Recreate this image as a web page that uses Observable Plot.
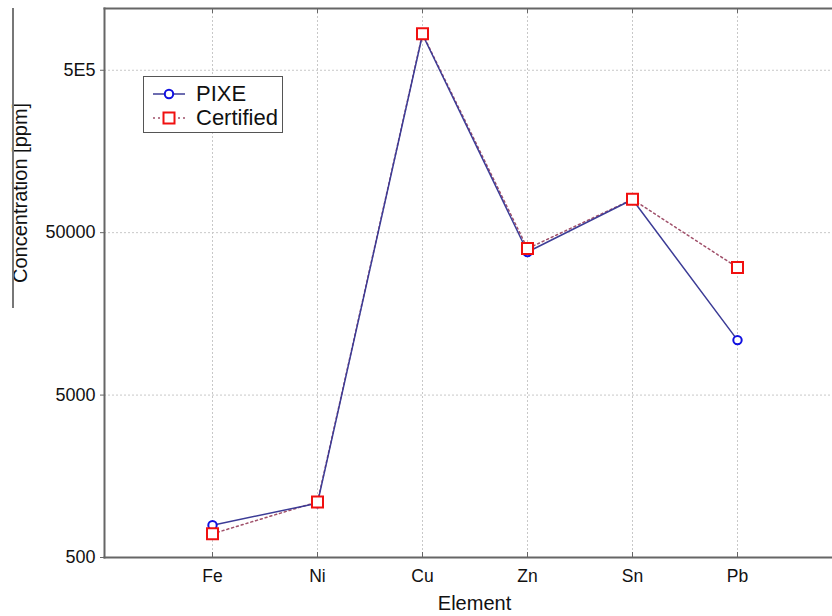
<!DOCTYPE html>
<html>
<head>
<meta charset="utf-8">
<script src="https://cdn.jsdelivr.net/npm/d3@7"></script>
<script src="https://cdn.jsdelivr.net/npm/@observablehq/plot@0.6"></script>
<style>
  html, body { margin: 0; padding: 0; background: white; }
  #wrap { position: relative; width: 832px; height: 616px; overflow: hidden; font-family: "Liberation Sans", Arial, sans-serif; }
  #stray { position: absolute; left: 12px; top: 8px; width: 2px; height: 300px; background: #777; }
  #legend { position: absolute; left: 143px; top: 76px; width: 138px; height: 55px; border: 1.5px solid #555; background: white; }
  #legend .row { position: absolute; left: 0; height: 26px; display: flex; align-items: center; }
  #legend .row span { font-size: 22px; color: #111; margin-left: 11px; }
</style>
</head>
<body>
<div id="wrap">
  <div id="chart"></div>
  <div id="stray"></div>
  <div id="legend">
    <div class="row" style="top:4px;left:9px">
      <svg width="32" height="14"><line x1="0" y1="7" x2="32" y2="7" stroke="#3c3c96" stroke-width="1.5"/><circle cx="16" cy="7" r="4.2" fill="white" stroke="#1010e0" stroke-width="2"/></svg>
      <span>PIXE</span>
    </div>
    <div class="row" style="top:28px;left:9px">
      <svg width="32" height="14"><line x1="0" y1="7" x2="32" y2="7" stroke="#a0506a" stroke-width="1.5" stroke-dasharray="2,3"/><rect x="10.5" y="1.5" width="11" height="11" fill="white" stroke="#f01010" stroke-width="2"/></svg>
      <span>Certified</span>
    </div>
  </div>
</div>
<script>
const elements = ["Fe", "Ni", "Cu", "Zn", "Sn", "Pb"];
const pixe = [790, 1080, 830000, 38000, 80000, 10900];
const certified = [700, 1100, 840000, 39900, 80200, 30500];
const yTicks = [500, 5000, 50000, 500000];
const yTickLabels = ["500", "5000", "50000", "5E5"];

const pixeRows = elements.map((e, i) => ({element: e, value: pixe[i]}));
const certRows = elements.map((e, i) => ({element: e, value: certified[i]}));
const tickRows = yTicks.map((v, i) => ({value: v, label: yTickLabels[i]}));

const chart = Plot.plot({
  width: 832,
  height: 616,
  marginLeft: 104,
  marginRight: 0,
  marginTop: 8,
  marginBottom: 59,
  style: {fontFamily: "'Liberation Sans', Arial, sans-serif", background: "white", color: "#111"},
  x: {type: "point", domain: elements, range: [209.5, 738.5], padding: 0, axis: null},
  y: {type: "log", domain: [500, 1.2e6], axis: null},
  marks: [
    Plot.gridX({stroke: "#c8c8c8", strokeOpacity: 1, strokeDasharray: "2,2"}),
    Plot.gridY(yTicks.slice(1), {stroke: "#c8c8c8", strokeOpacity: 1, strokeDasharray: "2,2"}),
    Plot.frame({anchor: "top", stroke: "#666", strokeWidth: 2}),
    Plot.frame({anchor: "left", stroke: "#666", strokeWidth: 2}),
    Plot.frame({anchor: "bottom", stroke: "#666", strokeWidth: 2}),
    Plot.axisY(yTicks, {tickSize: 4, tickFormat: () => "", stroke: "#666", label: null}),
    Plot.text(tickRows, {y: "value", text: "label", frameAnchor: "left", textAnchor: "end", dx: -9, fontSize: 18, fill: "#111"}),
    Plot.axisX({tickSize: -5, tickPadding: 17, fontSize: 17.5, stroke: "#666", label: null}),
    Plot.axisX({anchor: "top", tickSize: -4, tickFormat: () => "", stroke: "#666", label: null}),
    Plot.text(["Element"], {frameAnchor: "bottom", dx: 6, dy: 52, fontSize: 20, fill: "#111"}),
    Plot.text(["Concentration [ppm]"], {frameAnchor: "left", dx: -84, rotate: -90, fontSize: 20, fill: "#111"}),
    Plot.line(certRows, {x: "element", y: "value", stroke: "#a0506a", strokeWidth: 1.5, strokeDasharray: "2,3"}),
    Plot.line(pixeRows, {x: "element", y: "value", stroke: "#3c3c96", strokeWidth: 1.5}),
    Plot.dot(pixeRows, {x: "element", y: "value", r: 4.2, fill: "white", stroke: "#1010e0", strokeWidth: 2}),
    Plot.dot(certRows, {x: "element", y: "value", symbol: "square", r: 6.2, fill: "white", stroke: "#f01010", strokeWidth: 2})
  ]
});
document.getElementById("chart").appendChild(chart);
</script>
</body>
</html>
